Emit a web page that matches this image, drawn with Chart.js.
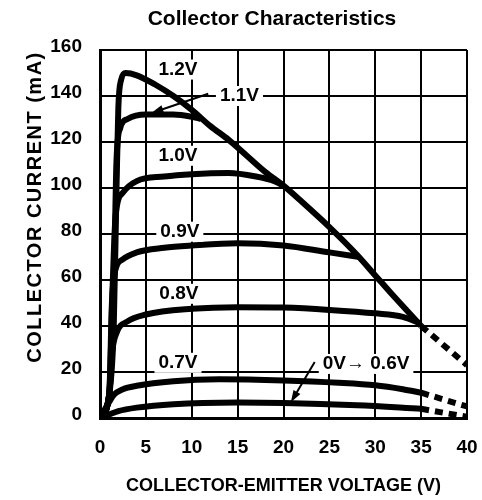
<!DOCTYPE html>
<html>
<head>
<meta charset="utf-8">
<script src="https://cdn.jsdelivr.net/npm/chart.js@4"></script>
<style>
  html, body { margin: 0; padding: 0; background: #fff; }
  #wrap { width: 482px; height: 500px; }
</style>
</head>
<body>
<div id="wrap"><canvas id="chart" width="482" height="500"></canvas></div>
<script>
// curves: [Vce (V), Ic (mA)]
const curve12V = [[0,0],[1.0,10],[1.5,40],[1.8,100],[2.0,135],[2.3,147],[2.8,150],[4,149],[6,145],[8,140],[10,134],[12,127],[14,121],[16,114],[18,107],[20,101],[22,94],[25,83],[28,71],[30,62],[32,53],[35,40]];
const curve12VDash = [[35,40],[40,23]];
const curve11V = [[0,0],[1.0,10],[1.5,55],[1.8,112],[2.2,126],[3,130],[5,132],[8,132],[10,131],[11,130]];
const curve10V = [[0,0],[1.0,10],[1.4,60],[1.7,88],[2.5,98],[4,103],[7,105],[10,106],[14,106.5],[17,105],[19,103],[20,101]];
const curve09V = [[0,0],[1.0,10],[1.3,50],[1.6,63],[2.5,69],[4,72],[7,74],[10,75],[15,76],[20,75],[25,72],[28.3,70]];
const curve08V = [[0,0],[1.0,10],[1.3,28],[1.8,37],[3,42],[5,45],[10,47.5],[15,48.2],[20,48],[25,47],[30,45.5],[33,44],[35,41]];
const curve07V = [[0,0],[1.0,7],[1.5,10],[2.5,12.5],[4,14],[8,16],[13,16.8],[20,16.3],[26,15.3],[30,14.2],[33,12.5],[35,11]];
const curve07VDash = [[35,11],[40,5]];
const curve06V = [[0,0],[1.0,1.5],[2,3],[4,4.5],[8,6],[15,6.7],[20,6.5],[28,5.5],[35,4]];
const curve06VDash = [[35,4],[40,0.5]];

const xTicks = [0, 5, 10, 15, 20, 25, 30, 35, 40];
const yTicks = [0, 20, 40, 60, 80, 100, 120, 140, 160];

const curveLabels = [
  { text: "1.2V", x: 8.5, y: 151.5 },
  { text: "1.1V", x: 15.2, y: 140 },
  { text: "1.0V", x: 8.5, y: 114 },
  { text: "0.9V", x: 8.7, y: 81 },
  { text: "0.8V", x: 8.6, y: 54 },
  { text: "0.7V", x: 8.5, y: 24 },
  { text: "0V\u2192 0.6V", x: 29.0, y: 23.5 }
];
const arrows = [
  { from: [11.8, 141], to: [5.6, 132.6] },
  { from: [23.4, 24.3], to: [20.8, 6.8] }
];

const FONT = "'Liberation Sans', Arial, sans-serif";

const pts = a => a.map(p => ({ x: p[0], y: p[1] }));
const solid = d => ({ data: pts(d), borderColor: "#000", borderWidth: 6, pointRadius: 0, cubicInterpolationMode: "monotone", fill: false });
const dashed = d => ({ data: pts(d), borderColor: "#000", borderWidth: 6, pointRadius: 0, borderDash: [8, 6], fill: false });

const labelPlugin = {
  id: "curveLabels",
  afterDatasetsDraw(chart) {
    const { ctx, scales: { x, y } } = chart;
    ctx.save();
    ctx.font = "bold 19px " + FONT;
    ctx.textAlign = "center";
    ctx.textBaseline = "middle";
    curveLabels.forEach(l => {
      const px = x.getPixelForValue(l.x), py = y.getPixelForValue(l.y);
      const w = ctx.measureText(l.text).width;
      ctx.fillStyle = "#fff";
      ctx.fillRect(px - w / 2 - 4, py - 10, w + 8, 20);
      ctx.fillStyle = "#000";
      ctx.fillText(l.text, px, py);
    });
    ctx.strokeStyle = "#000";
    ctx.fillStyle = "#000";
    ctx.lineWidth = 2;
    arrows.forEach(a => {
      const x1 = x.getPixelForValue(a.from[0]), y1 = y.getPixelForValue(a.from[1]);
      const x2 = x.getPixelForValue(a.to[0]), y2 = y.getPixelForValue(a.to[1]);
      const ang = Math.atan2(y2 - y1, x2 - x1);
      ctx.beginPath();
      ctx.moveTo(x1, y1);
      ctx.lineTo(x2 - 8 * Math.cos(ang), y2 - 8 * Math.sin(ang));
      ctx.stroke();
      ctx.beginPath();
      ctx.moveTo(x2, y2);
      ctx.lineTo(x2 - 12 * Math.cos(ang) + 4 * Math.sin(ang), y2 - 12 * Math.sin(ang) - 4 * Math.cos(ang));
      ctx.lineTo(x2 - 12 * Math.cos(ang) - 4 * Math.sin(ang), y2 - 12 * Math.sin(ang) + 4 * Math.cos(ang));
      ctx.closePath();
      ctx.fill();
    });

    // chart title and y-axis title (placed off-centre like the original)
    ctx.fillStyle = "#000";
    ctx.font = "bold 21px " + FONT;
    ctx.fillText("Collector Characteristics", 272, 19);
    ctx.translate(35, 207);
    ctx.rotate(-Math.PI / 2);
    ctx.font = "bold 20px " + FONT;
    ctx.letterSpacing = "1.5px";
    ctx.fillText("COLLECTOR CURRENT (mA)", 0, 0);
    ctx.restore();
  }
};

new Chart(document.getElementById("chart"), {
  type: "line",
  data: {
    datasets: [
      solid(curve12V), dashed(curve12VDash), solid(curve11V), solid(curve10V),
      solid(curve09V), solid(curve08V), solid(curve07V), dashed(curve07VDash),
      solid(curve06V), dashed(curve06VDash)
    ]
  },
  options: {
    responsive: false,
    animation: false,
    layout: { padding: { left: 0, right: 15, top: 50, bottom: 0 } },
    plugins: {
      legend: { display: false },
      tooltip: { enabled: false },
      title: { display: false }
    },
    scales: {
      x: {
        type: "linear",
        min: 0, max: 40,
        afterBuildTicks: s => { s.ticks = xTicks.map(v => ({ value: v })); },
        afterFit: s => { s.height = 82; s.paddingLeft = 0; s.paddingRight = 0; },
        grid: { color: "#000", lineWidth: 2, drawTicks: false },
        border: { color: "#000", width: 3 },
        ticks: { color: "#000", padding: 18, maxRotation: 0, font: { family: FONT, size: 19, weight: "bold" } },
        title: { display: true, text: "COLLECTOR-EMITTER VOLTAGE (V)", color: "#000", padding: { top: 0, bottom: 3 }, font: { family: FONT, size: 18, weight: "bold" } }
      },
      y: {
        type: "linear",
        min: 0, max: 160,
        afterBuildTicks: s => { s.ticks = yTicks.map(v => ({ value: v })); },
        afterFit: s => { s.width = 100; s.paddingTop = 0; s.paddingBottom = 0; },
        grid: { color: "#000", lineWidth: 2, drawTicks: false },
        border: { color: "#000", width: 3 },
        ticks: { color: "#000", padding: 18, labelOffset: -3, font: { family: FONT, size: 19, weight: "bold" } },
        title: { display: false }
      }
    }
  },
  plugins: [labelPlugin]
});
</script>
</body>
</html>
